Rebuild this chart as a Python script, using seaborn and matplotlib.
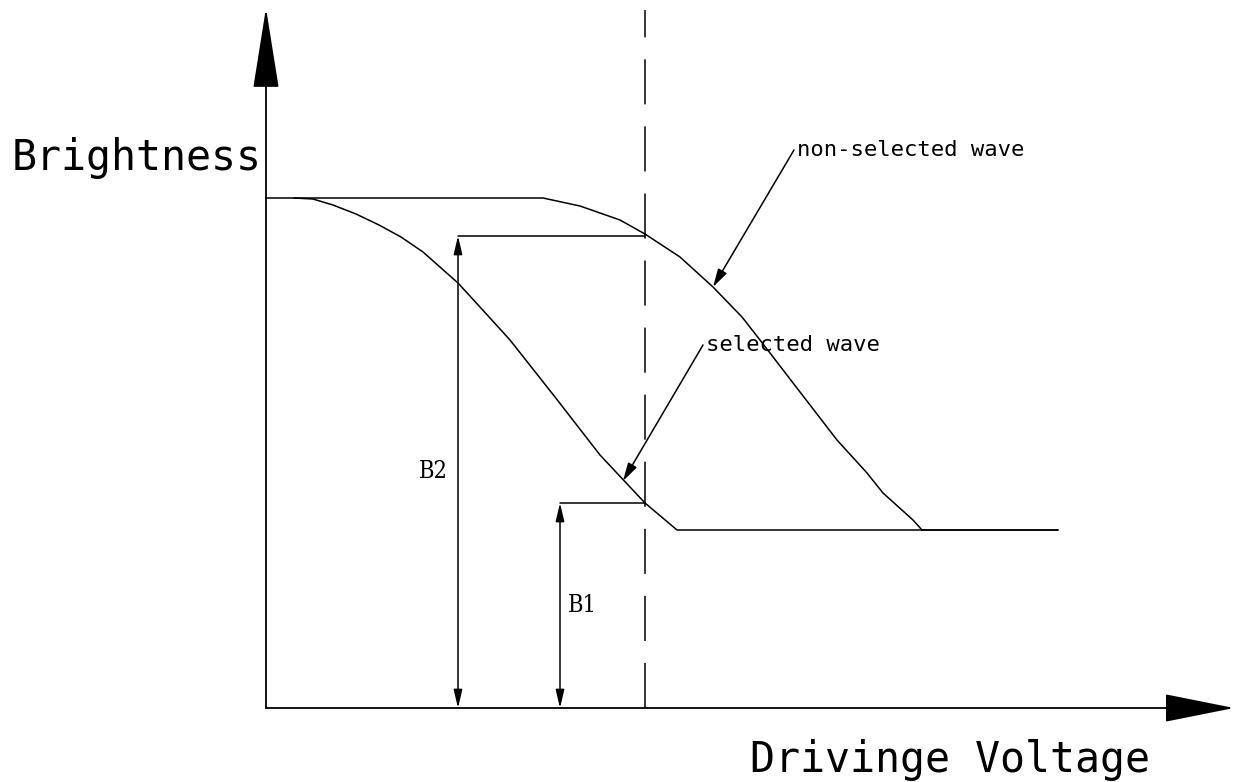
import matplotlib
matplotlib.use("Agg")
import matplotlib.pyplot as plt
import seaborn as sns
import pandas as pd

# curve points (voltage, brightness), arbitrary units
nonsel_v = [0.00, 2.77, 3.14, 3.54, 3.79, 4.14, 4.47, 4.76, 4.94, 5.34, 5.71, 6.01, 6.17, 6.47, 6.56, 7.92]
nonsel_b = [5.10, 5.10, 5.02, 4.88, 4.74, 4.51, 4.21, 3.91, 3.68, 3.16, 2.68, 2.35, 2.15, 1.88, 1.78, 1.78]
sel_v = [0.28, 0.47, 0.67, 0.90, 1.13, 1.35, 1.57, 1.92, 2.14, 2.44, 2.89, 3.34, 3.79, 4.11, 7.92]
sel_b = [5.10, 5.09, 5.03, 4.94, 4.83, 4.71, 4.56, 4.25, 4.01, 3.68, 3.11, 2.53, 2.05, 1.78, 1.78]

v_select = 3.79          # driving voltage marked by the dashed line
b2_level, b2_x = 4.72, 1.92
b1_level, b1_x = 2.05, 2.94

x_max, y_max = 9.68, 7.00

df = pd.concat([
    pd.DataFrame({"v": nonsel_v, "b": nonsel_b, "wave": "non-selected wave"}),
    pd.DataFrame({"v": sel_v, "b": sel_b, "wave": "selected wave"}),
])

sns.set_style("white")
fig = plt.figure(figsize=(12.35, 7.82), dpi=100)
ax = fig.add_axes([0, 0, 1, 1])
ax.set_xlim(-2.66, 9.69)
ax.set_ylim(-0.74, 7.08)
ax.axis("off")

for name, g in df.groupby("wave"):
    sns.lineplot(data=g, x="v", y="b", sort=False, estimator=None,
                 color="black", lw=1.1, ax=ax, legend=False)

# axes with big arrows
ax.annotate("", xy=(0, y_max), xytext=(0, 0),
            arrowprops=dict(arrowstyle="-|>,head_length=52,head_width=8.3",
                            mutation_scale=1, color="black", lw=1.3,
                            shrinkA=0, shrinkB=0))
ax.annotate("", xy=(x_max, 0), xytext=(0, 0),
            arrowprops=dict(arrowstyle="-|>,head_length=45,head_width=9",
                            mutation_scale=1, color="black", lw=1.3,
                            shrinkA=0, shrinkB=0))

# dashed selection line
ax.plot([v_select, v_select], [0, 6.98], color="black", lw=1.1,
        dashes=(29.5, 14.4))

# dimension lines B2 / B1
dim_arrow = dict(arrowstyle="<|-|>,head_length=11,head_width=2.6",
                 mutation_scale=1, color="black", lw=1.1, shrinkA=0, shrinkB=0)
ax.annotate("", xy=(b2_x, b2_level), xytext=(b2_x, 0), arrowprops=dim_arrow)
ax.plot([b2_x, v_select], [b2_level, b2_level], color="black", lw=1.1)
ax.annotate("", xy=(b1_x, b1_level), xytext=(b1_x, 0), arrowprops=dim_arrow)
ax.plot([b1_x, v_select], [b1_level, b1_level], color="black", lw=1.1)

serif = dict(family="DejaVu Serif", stretch="condensed", fontsize=17, color="black")
ax.text(b2_x - 0.10, 2.37, "B2", ha="right", va="center", **serif)
ax.text(b1_x + 0.08, 1.02, "B1", ha="left", va="center", **serif)

# wave labels with pointer arrows
small = dict(family="DejaVu Sans Mono", fontsize=16, color="black")
ptr = dict(arrowstyle="-|>,head_length=11,head_width=3", mutation_scale=1,
           color="black", lw=1.1, shrinkA=0, shrinkB=0)
ax.annotate("", xy=(4.47, 4.21), xytext=(5.28, 5.58), arrowprops=ptr)
ax.text(5.31, 5.58, "non-selected wave", ha="left", va="center", **small)
ax.annotate("", xy=(3.57, 2.27), xytext=(4.37, 3.63), arrowprops=ptr)
ax.text(4.40, 3.63, "selected wave", ha="left", va="center", **small)

big = dict(family="DejaVu Sans Mono", fontsize=30, color="black")
ax.text(-2.54, 5.38, "Brightness", ha="left", va="baseline", **big)
ax.text(4.84, -0.64, "Drivinge Voltage", ha="left", va="baseline", **big)

fig.savefig("out.png", dpi=100)
